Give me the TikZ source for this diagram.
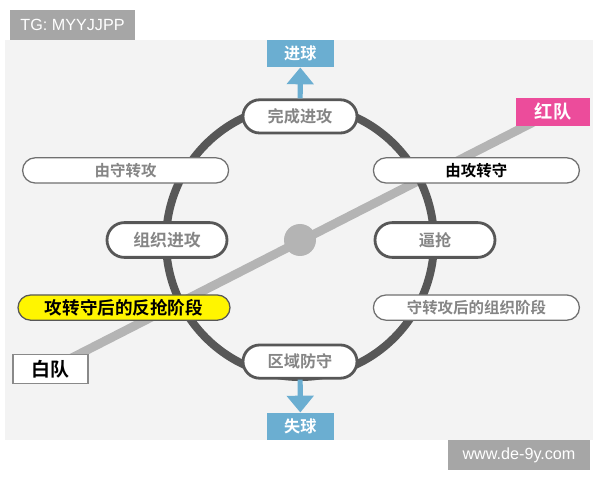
\documentclass[tikz,border=0pt]{standalone}
\usepackage{fontspec}
\setmainfont{Liberation Sans}
\newfontfamily\cjk{Noto Sans CJK SC}[BoldFont={Noto Sans CJK SC Bold}]
\usetikzlibrary{arrows.meta,backgrounds,shapes.misc}
\definecolor{panelgray}{HTML}{F3F3F3}
\definecolor{markgray}{HTML}{A6A6A6}
\definecolor{ringgray}{HTML}{575757}
\definecolor{linegray}{HTML}{B4B4B4}
\definecolor{goalblue}{HTML}{6BAED1}
\definecolor{redteam}{HTML}{EC4C9B}
\definecolor{textgray}{HTML}{858585}
\definecolor{hiyellow}{HTML}{FFF500}
\begin{document}
\begin{tikzpicture}[
  state/.style={rounded rectangle, draw=ringgray, line width=2pt, fill=white, minimum width=2.85cm, minimum height=0.83cm, inner sep=0pt, text=textgray, font=\cjk\bfseries\fontsize{11.5}{12}\selectfont},
  phasebar/.style={rounded rectangle, draw=ringgray!85, line width=0.9pt, fill=white, minimum width=5.15cm, minimum height=0.63cm, inner sep=0pt, text=textgray, font=\cjk\bfseries\fontsize{11}{12}\selectfont},
  teambox/.style={rectangle, minimum width=1.85cm, minimum height=0.72cm, font=\cjk\bfseries\fontsize{13.5}{14}\selectfont},
  goalbox/.style={rectangle, fill=goalblue, text=white, minimum width=1.68cm, minimum height=0.68cm, font=\cjk\bfseries\fontsize{11.5}{12}\selectfont},
  markbox/.style={rectangle, fill=markgray, text=white, minimum height=0.75cm, font=\fontsize{11.5}{12}\selectfont},
  goalarrow/.style={-{Triangle[width=0.66cm,length=0.42cm]}, line width=0.13cm, draw=goalblue},
  node distance=8.77cm
]
\useasboundingbox (0,0) rectangle (15,12);

\node[markbox, minimum width=3.125cm] (tg) at (1.8125,11.375) {TG: MYYJJPP};
\node[markbox, minimum width=3.55cm] (site) at (12.975,0.625) {www.de-9y.com};

\node[state] (wancheng) at (7.5,9.09) {完成进攻};
\node[state] (quyu) at (7.5,2.96) {区域防守};
\node[state, minimum width=3cm, minimum height=0.87cm, font=\cjk\bfseries\fontsize{12}{12}\selectfont] (zuzhi) at (4.175,6.0) {组织进攻};
\node[state, minimum width=3cm, minimum height=0.87cm] (biqiang) at (10.875,6.0) {逼抢};

\node[phasebar] (shouzhuan) at (3.14,7.74) {由守转攻};
\node[phasebar, right of=shouzhuan, text=black] (gongzhuan) {由攻转守};
\node[phasebar, fill=hiyellow, draw=ringgray, minimum width=5.3cm, text=black, font=\cjk\bfseries\fontsize{12.5}{12}\selectfont] (fanqiang) at (3.1,4.31) {攻转守后的反抢阶段};
\node[phasebar, right of=fanqiang, xshift=0.04cm] (zuzhijd) {守转攻后的组织阶段};

\node[teambox, fill=white, draw=ringgray!70, line width=0.9pt, minimum width=1.875cm] (baidui) at (1.26,2.78) {白队};
\node[teambox, fill=redteam, text=white, font=\cjk\bfseries\fontsize{13}{14}\selectfont] (hongdui) at (13.83,9.2) {红队};

\node[goalbox] (jinqiu) at (7.51,10.66) {进球};
\node[goalbox] (shiqiu) at (7.51,1.34) {失球};

\node[circle, fill=linegray, minimum size=0.8cm] (ball) at (7.5,6.0) {};

\draw[goalarrow] (wancheng) -- (jinqiu);
\draw[goalarrow] (quyu) -- (shiqiu);

% Pitch, team line and phase ring
\begin{scope}[on background layer]
\fill[panelgray] (0.125,1.0) rectangle (14.825,11.0);
\draw[linegray, line width=0.22cm] (baidui.center) -- (hongdui.center);
\draw[ringgray, line width=0.2cm] (7.5,5.975) ellipse [x radius=3.35cm, y radius=3.4cm];
\end{scope}
\end{tikzpicture}
\end{document}
